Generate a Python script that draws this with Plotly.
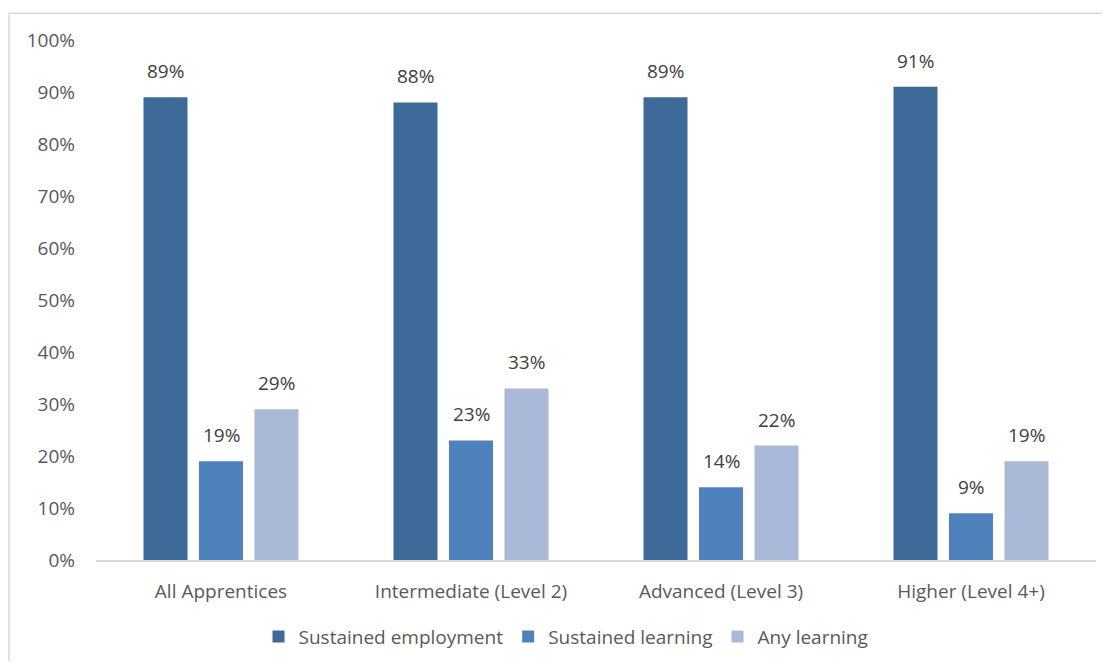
import plotly.graph_objects as go

categories = ["All Apprentices", "Intermediate (Level 2)", "Advanced (Level 3)", "Higher (Level 4+)"]
series_names = ["Sustained employment", "Sustained learning", "Any learning"]
sustained_employment = [0.89, 0.88, 0.89, 0.91]
sustained_learning = [0.19, 0.23, 0.14, 0.09]
any_learning = [0.29, 0.33, 0.22, 0.19]
colors = ["#3E6A9A", "#4F81BD", "#AAB9D7"]

series = [sustained_employment, sustained_learning, any_learning]
FONT = "'Open Sans', Lato, sans-serif"

fig = go.Figure()
for name, vals, col in zip(series_names, series, colors):
    fig.add_trace(go.Bar(
        name=name, x=categories, y=vals, marker=dict(color=col, line=dict(width=0)),
        hoverinfo="skip",
    ))

bargap = 0.334
bargroupgap = 0.207
n = len(series)
slot = (1 - bargap) / n
for i, vals in enumerate(series):
    off = (i - (n - 1) / 2) * slot
    for j, v in enumerate(vals):
        fig.add_annotation(
            x=j + off, y=v, xref="x", yref="y", text=f"{round(v*100)}%",
            showarrow=False, yanchor="bottom", yshift=11,
            font=dict(family=FONT, size=19, color="#404040"),
        )

W, H = 1094, 653
L, R, T, B = 88, 6, 32, 98
pw, ph = W - L - R, H - T - B

fig.update_layout(
    width=W, height=H,
    margin=dict(l=L, r=R, t=T, b=B),
    paper_bgcolor="white", plot_bgcolor="white",
    barmode="group", bargap=bargap, bargroupgap=bargroupgap,
    font=dict(family=FONT, size=19, color="#595959"),
    showlegend=True,
    legend=dict(orientation="h", x=0.47, xanchor="center", y=-77/ph, yanchor="middle",
                font=dict(family=FONT, size=19, color="#595959"),
                itemwidth=30, traceorder="normal"),
    shapes=[dict(type="rect", xref="paper", yref="paper",
                 x0=(-L + 1) / pw, x1=1.2, y0=-0.5, y1=1 + 27 / ph,
                 line=dict(color="#D9D9D9", width=1.5), layer="below")],
)
fig.update_xaxes(
    type="category", showgrid=False, showline=True, linecolor="#D9D9D9", linewidth=1.5,
    ticks="", ticklabelstandoff=13, tickfont=dict(family=FONT, size=19, color="#595959"),
)
fig.update_yaxes(
    range=[0, 1.0], dtick=0.1, tickformat=".0%", showgrid=False, showline=False,
    zeroline=False, ticks="", ticklabelstandoff=20,
    tickfont=dict(family=FONT, size=19, color="#595959"),
)

fig.write_html("out.html")
